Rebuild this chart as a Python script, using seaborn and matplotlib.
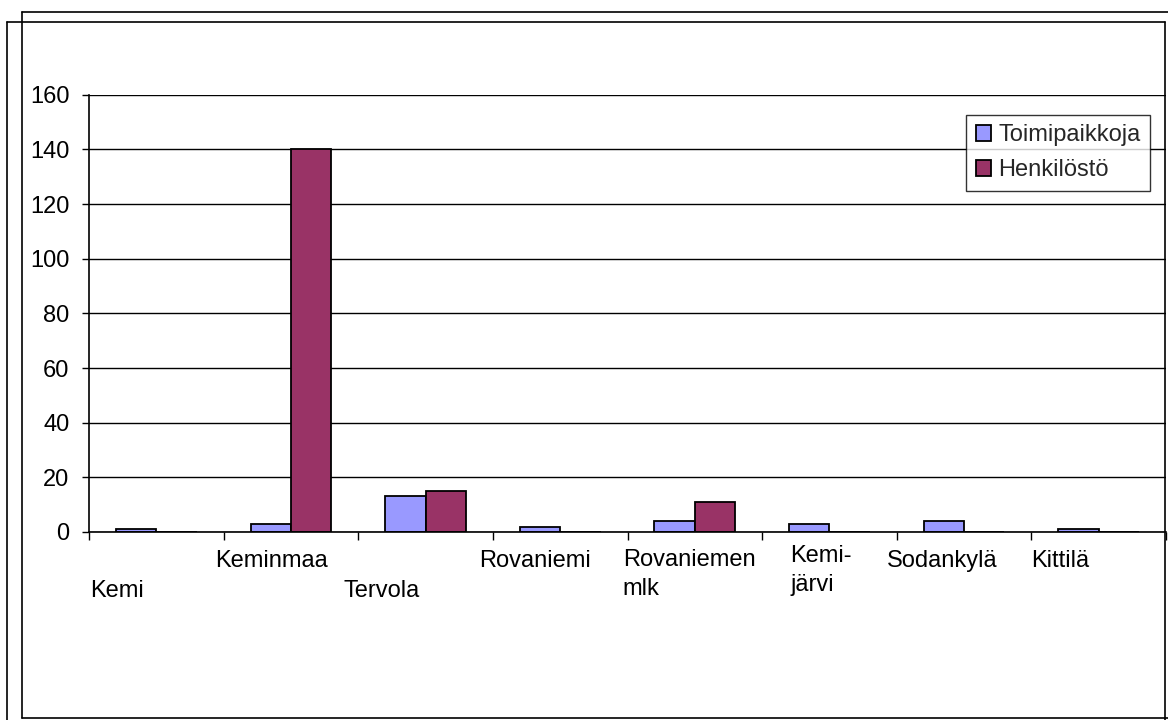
import numpy as np
import pandas as pd
import matplotlib
matplotlib.use("Agg")
import matplotlib.pyplot as plt
from matplotlib.patches import Patch
from matplotlib.lines import Line2D
import seaborn as sns

# ---- data ----
categories = ["Kemi", "Keminmaa", "Tervola", "Rovaniemi", "Rovaniemen\nmlk",
              "Kemi-\njärvi", "Sodankylä", "Kittilä"]
toimipaikkoja = [1, 3, 13, 2, 4, 3, 4, 1]
henkilosto = [0, 140, 15, 0, 11, 0, 0, 0]
series_names = ["Toimipaikkoja", "Henkilöstö"]
y_ticks = [0, 20, 40, 60, 80, 100, 120, 140, 160]

df = pd.DataFrame({
    "cat": categories * 2,
    "series": [series_names[0]] * len(categories) + [series_names[1]] * len(categories),
    "value": toimipaikkoja + henkilosto,
})

sns.set_theme(style="white")
plt.rcParams["font.family"] = ["Liberation Sans", "DejaVu Sans"]

W, H = 1168, 720
fig = plt.figure(figsize=(W / 100, H / 100), dpi=100)
fig.patch.set_facecolor("white")

ax_l, ax_r, ax_t, ax_b = 89, 1166, 94.7, 532
ax = fig.add_axes([ax_l / W, 1 - ax_b / H, (ax_r - ax_l) / W, (ax_b - ax_t) / H])

colors = ["#9999FF", "#993366"]
sns.barplot(data=df, x="cat", y="value", hue="series", order=categories,
            hue_order=series_names, palette=colors, width=0.6, gap=0,
            edgecolor="black", linewidth=1.3, ax=ax, legend=False, saturation=1)

ax.set_ylim(0, 160)
ax.set_xlim(-0.5, len(categories) - 0.5)
ax.set_yticks(y_ticks)
ax.set_yticklabels([str(v) for v in y_ticks], fontsize=17, color="black")
ax.yaxis.grid(True, color="black", linewidth=1.0)
ax.set_axisbelow(True)
ax.set_xticks(np.arange(-0.5, len(categories), 1))
ax.set_xticklabels([])
ax.tick_params(axis="y", direction="out", length=5, width=1, pad=9, left=True, colors="black")
ax.tick_params(axis="x", direction="out", length=6, width=1, bottom=True, colors="black")
for s in ["top", "right"]:
    ax.spines[s].set_visible(False)
for s in ["left", "bottom"]:
    ax.spines[s].set_color("black")
    ax.spines[s].set_linewidth(1.2)
ax.set_xlabel("")
ax.set_ylabel("")

# category labels (staggered like the original)
label_left = [-0.49, 0.436, 1.394, 2.397, 3.466, 4.708, 5.43, 6.5]
label_base_px = [597, 567, 597, 567, 566, 562, 567, 567]
line_step_px = 29
trans = ax.get_xaxis_transform()
for cat, lx, by in zip(categories, label_left, label_base_px):
    for k, line in enumerate(cat.split("\n")):
        py = by + k * line_step_px
        ya = (ax_b - py) / (ax_b - ax_t)
        ax.text(lx, ya, line, transform=trans, ha="left", va="baseline",
                fontsize=17, color="black", clip_on=False)

# legend
handles = [Patch(facecolor=c, edgecolor="black", linewidth=1.3) for c in colors]
leg = fig.legend(handles, series_names, loc="upper right",
                 bbox_to_anchor=(1150 / W, 1 - 115 / H), bbox_transform=fig.transFigure,
                 fontsize=17, frameon=True, fancybox=False, edgecolor="black",
                 handlelength=0.65, handleheight=0.65, handletextpad=0.3,
                 labelspacing=0.55, borderpad=0.4, borderaxespad=0)
leg.get_frame().set_linewidth(1.0)

# outer frames
def fline(x0, y0, x1, y1):
    fig.add_artist(Line2D([x0 / W, x1 / W], [1 - y0 / H, 1 - y1 / H],
                          transform=fig.transFigure, color="black", linewidth=1.2))

fline(21.7, 12, 1168, 12)
fline(21.7, 12, 21.7, 717.5)
fline(21.7, 717.5, 1168, 717.5)
fline(7, 21.7, 1165, 21.7)
fline(7, 21.7, 7, 720)
fline(1165, 21.7, 1165, 720)

fig.savefig("out.png", dpi=100)
